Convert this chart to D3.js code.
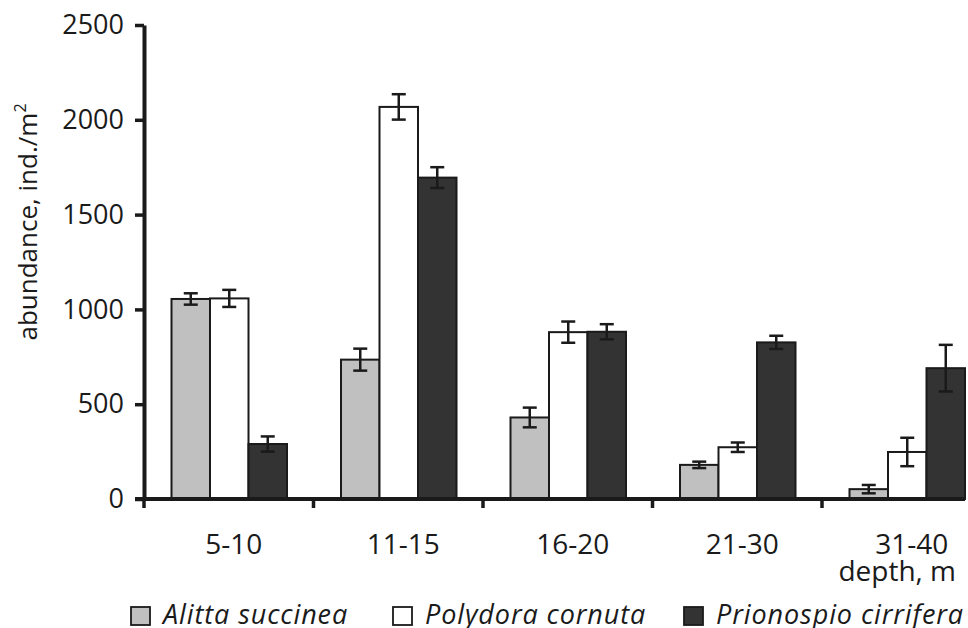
<!DOCTYPE html>
<html>
<head>
<meta charset="utf-8">
<script src="https://cdn.jsdelivr.net/npm/d3@7"></script>
<style>
  body { margin: 0; background: #fff; }
  text { font-family: 'Open Sans', sans-serif; fill: #1a1a1a; }
</style>
</head>
<body>
<div id="display"></div>
<script>
const categories = ['5-10', '11-15', '16-20', '21-30', '31-40'];
const seriesNames = ['Alitta succinea', 'Polydora cornuta', 'Prionospio cirrifera'];
const alitta = [1055, 735, 430, 180, 52];
const alittaErr = [30, 58, 52, 17, 22];
const polydora = [1058, 2068, 880, 273, 248];
const polydoraErr = [45, 67, 56, 25, 75];
const prionospio = [290, 1695, 882, 826, 690];
const prionospioErr = [40, 55, 40, 35, 123];
const yTicks = [0, 500, 1000, 1500, 2000, 2500];

const colors = ['#c0c0c0', '#ffffff', '#333333'];
const ink = '#1a1a1a';

const width = 968;
const height = 628;

const svg = d3.select('#display').append('svg')
    .attr('width', width)
    .attr('height', height);

const x = d3.scaleBand().domain(categories).range([144, 991.5]);
const x1 = d3.scaleBand().domain(seriesNames).range([27.5, 143]);
const y = d3.scaleLinear().domain([0, 2500]).range([499, 25]);

const values = [alitta, polydora, prionospio];
const errors = [alittaErr, polydoraErr, prionospioErr];

const data = [];
categories.forEach((c, i) => {
  seriesNames.forEach((s, j) => {
    data.push({cat: c, series: s, idx: j, v: values[j][i], e: errors[j][i]});
  });
});

// bars
svg.append('g')
    .selectAll('rect')
    .data(data)
    .enter()
    .append('rect')
    .attr('x', (d) => x(d.cat) + x1(d.series))
    .attr('y', (d) => y(d.v))
    .attr('width', x1.bandwidth())
    .attr('height', (d) => y(0) - y(d.v))
    .attr('fill', (d) => colors[d.idx])
    .attr('stroke', ink)
    .attr('stroke-width', 2);

// error bars
const eb = svg.append('g')
    .selectAll('g')
    .data(data)
    .enter()
    .append('g')
    .attr('transform', (d) =>
      'translate(' + (x(d.cat) + x1(d.series) + x1.bandwidth() / 2) + ',0)');
eb.append('line')
    .attr('y1', (d) => y(d.v + d.e))
    .attr('y2', (d) => y(d.v - d.e))
    .attr('stroke', ink).attr('stroke-width', 2.5);
eb.append('line')
    .attr('x1', -7).attr('x2', 7)
    .attr('y1', (d) => y(d.v + d.e)).attr('y2', (d) => y(d.v + d.e))
    .attr('stroke', ink).attr('stroke-width', 2.5);
eb.append('line')
    .attr('x1', -7).attr('x2', 7)
    .attr('y1', (d) => y(d.v - d.e)).attr('y2', (d) => y(d.v - d.e))
    .attr('stroke', ink).attr('stroke-width', 2.5);

// y axis
const yAxis = svg.append('g')
    .attr('transform', 'translate(144,0)')
    .call(d3.axisLeft(y).tickValues(yTicks).tickFormat(d3.format('d'))
        .tickSize(9).tickSizeOuter(0).tickPadding(11));
yAxis.select('.domain').attr('stroke', ink).attr('stroke-width', 4);
yAxis.selectAll('.tick line').attr('stroke', ink).attr('stroke-width', 3.5);
yAxis.selectAll('.tick text')
    .style('font-family', "'Open Sans', sans-serif")
    .style('font-size', '27px')
    .attr('fill', ink);

// x axis (ticks sit on the group boundaries)
const lastEnd = x(categories[categories.length - 1]) +
    x1(seriesNames[2]) + x1.bandwidth();
svg.append('line')
    .attr('x1', 135).attr('x2', lastEnd)
    .attr('y1', y(0)).attr('y2', y(0))
    .attr('stroke', ink).attr('stroke-width', 4);
svg.append('g')
    .selectAll('line')
    .data(categories)
    .enter()
    .append('line')
    .attr('x1', (d) => x(d)).attr('x2', (d) => x(d))
    .attr('y1', y(0)).attr('y2', y(0) + 9)
    .attr('stroke', ink).attr('stroke-width', 3.5);

svg.append('g')
    .selectAll('text')
    .data(categories)
    .enter()
    .append('text')
    .attr('x', (d) => x(d) + x.bandwidth() / 2 + 5)
    .attr('y', 554)
    .attr('text-anchor', 'middle')
    .style('font-size', '28px')
    .text((d) => d);

svg.append('text')
    .attr('x', 956)
    .attr('y', 581)
    .attr('text-anchor', 'end')
    .style('font-size', '28px')
    .text('depth, m');

// y label
const yl = svg.append('text')
    .attr('transform', 'translate(37,222) rotate(-90)')
    .attr('text-anchor', 'middle')
    .style('font-size', '26px');
yl.append('tspan').text('abundance, ind./m');
yl.append('tspan').attr('dy', -11).style('font-size', '16px').text('2');

// legend
const legendX = [131, 393, 684];
const lg = svg.append('g')
    .selectAll('g')
    .data(seriesNames)
    .enter()
    .append('g')
    .attr('transform', (d, i) => 'translate(' + legendX[i] + ',0)');
lg.append('rect')
    .attr('x', 0).attr('y', 607)
    .attr('width', 19).attr('height', 18)
    .attr('fill', (d, i) => colors[i])
    .attr('stroke', ink).attr('stroke-width', 1.8);
lg.append('text')
    .attr('x', 32)
    .attr('y', 624)
    .style('font-size', '27px')
    .style('font-style', 'italic')
    .style('letter-spacing', '0.9px')
    .text((d) => d);
</script>
</body>
</html>
